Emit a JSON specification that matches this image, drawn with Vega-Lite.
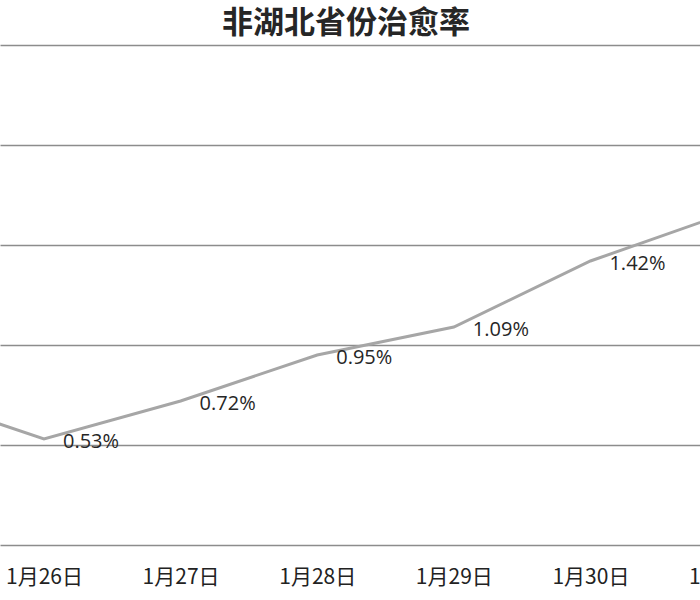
{
  "$schema": "https://vega.github.io/schema/vega-lite/v6.json",
  "autosize": "none",
  "width": 800,
  "height": 500,
  "padding": {"left": 0, "right": -100, "top": 45, "bottom": 55},
  "background": "white",
  "view": {"stroke": null},
  "title": {
    "text": "非湖北省份治愈率",
    "font": "Noto Sans CJK SC",
    "fontSize": 31,
    "fontWeight": "bold",
    "color": "#262626",
    "anchor": "middle",
    "dx": -54,
    "offset": 5
  },
  "data": {
    "values": [
      {"day": 25, "rate": 0.0076},
      {"day": 26, "rate": 0.0053},
      {"day": 27, "rate": 0.0072},
      {"day": 28, "rate": 0.0095},
      {"day": 29, "rate": 0.0109},
      {"day": 30, "rate": 0.0142},
      {"day": 31, "rate": 0.0166}
    ]
  },
  "encoding": {
    "x": {
      "field": "day",
      "type": "quantitative",
      "scale": {"domain": [25.678, 31.534], "nice": false, "zero": false},
      "axis": {
        "values": [26, 27, 28, 29, 30, 31],
        "labelExpr": "'1月' + datum.value + '日'",
        "title": null,
        "grid": false,
        "domain": false,
        "ticks": false,
        "labelFont": "Noto Sans CJK SC",
        "labelFontSize": 21,
        "labelColor": "#222222",
        "labelPadding": 21,
        "labelFlush": false,
        "labelOverlap": false
      }
    },
    "y": {
      "field": "rate",
      "type": "quantitative",
      "scale": {"domain": [0, 0.025], "nice": false},
      "axis": {
        "values": [0, 0.005, 0.01, 0.015, 0.02, 0.025],
        "title": null,
        "labels": false,
        "domain": false,
        "ticks": false,
        "grid": true,
        "gridColor": "#8c8c8c",
        "gridWidth": 1.5
      }
    }
  },
  "layer": [
    {
      "mark": {"type": "line", "color": "#a6a6a6", "strokeWidth": 3, "clip": true}
    },
    {
      "mark": {
        "type": "text",
        "align": "left",
        "baseline": "middle",
        "dx": 19,
        "dy": 3,
        "font": "Open Sans",
        "fontSize": 20,
        "color": "#262626"
      },
      "encoding": {
        "text": {"field": "rate", "type": "quantitative", "format": ".2%"}
      }
    }
  ]
}
